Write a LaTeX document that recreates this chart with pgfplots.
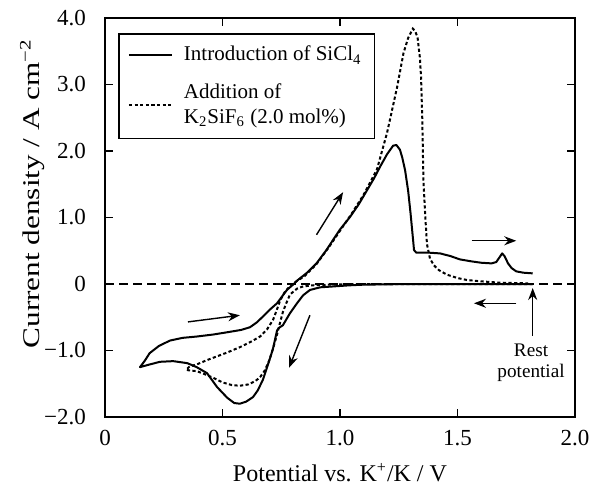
\documentclass[border=0pt]{standalone}
\usepackage{fontspec}
\setmainfont{Liberation Serif}
\usepackage{pgfplots}
\pgfplotsset{compat=1.18}
\usetikzlibrary{arrows.meta,calc}

\begin{document}
\begin{tikzpicture}
\begin{axis}[
  scale only axis, width=235pt, height=199.5pt,
  xmin=0, xmax=2, ymin=-2, ymax=4,
  xtick={0,0.5,1,1.5,2}, xticklabels={0,0.5,1.0,1.5,2.0},
  ytick={-2,-1,0,1,2,3,4}, yticklabels={−2.0,−1.0,0,1.0,2.0,3.0,4.0},
  tick align=inside, major tick length=4pt,
  tick style={line width=0.7pt, black},
  axis line style={line width=0.8pt},
  every tick label/.append style={font=\fontsize{11.5}{13}\selectfont},
  yticklabel style={xshift=-6pt},
  xticklabel style={yshift=-3pt},
  xlabel={Potential vs. K\textsuperscript{+}/K / V},
  ylabel={\scalebox{1.3}[1]{Current density / A cm\textsuperscript{−2}}},
  label style={font=\fontsize{12}{14}\selectfont},
  xlabel style={yshift=-2pt},
  ylabel style={yshift=-7pt, xshift=12pt},
  legend style={at={(rel axis cs:0.028,0.962)}, anchor=north west, draw=black, line width=0.8pt,
    font=\fontsize{10.5}{12.5}\selectfont, cells={align=left, anchor=west}, inner xsep=4.5pt, inner ysep=4pt, row sep=6pt},
  legend image code/.code={\draw[#1] (0pt,0pt) -- (21.5pt,0pt); \path (25pt,0pt);},
]
% zero line
\addplot[forget plot, line width=0.8pt, dash pattern=on 4.5pt off 2.5pt] coordinates {(0,0) (2,0)};

% SiCl4 introduction (solid)
\addplot[line width=1pt, black, line join=round] coordinates {
(1.82,0.0) (1.60,0.0) (1.30,0.0) (1.10,-0.01) (1.04,-0.02) (0.915,-0.05) (0.872,-0.09)
(0.843,-0.17) (0.817,-0.29) (0.787,-0.44) (0.757,-0.62) (0.74,-0.66) (0.732,-0.70)
(0.715,-0.97) (0.70,-1.14) (0.672,-1.44) (0.65,-1.60) (0.63,-1.70) (0.60,-1.77)
(0.574,-1.80) (0.55,-1.79) (0.52,-1.71) (0.477,-1.55) (0.434,-1.34) (0.39,-1.25)
(0.35,-1.19) (0.29,-1.16) (0.234,-1.17) (0.19,-1.21) (0.149,-1.25)
(0.17,-1.15) (0.19,-1.04) (0.23,-0.93) (0.277,-0.85) (0.33,-0.81) (0.39,-0.79)
(0.46,-0.76) (0.53,-0.72) (0.58,-0.69) (0.617,-0.65) (0.645,-0.58) (0.672,-0.49)
(0.70,-0.39) (0.732,-0.29) (0.755,-0.18) (0.774,-0.09) (0.80,-0.01) (0.817,0.05)
(0.86,0.17) (0.90,0.31) (0.94,0.50) (0.97,0.66) (1.00,0.82) (1.043,1.01) (1.08,1.20)
(1.115,1.41) (1.145,1.59) (1.17,1.76) (1.20,1.95) (1.226,2.08) (1.24,2.09) (1.255,2.02)
(1.265,1.90) (1.277,1.71) (1.29,1.40) (1.30,1.07) (1.31,0.70) (1.315,0.51) (1.325,0.47)
(1.383,0.47) (1.426,0.46) (1.47,0.42) (1.51,0.37) (1.56,0.34) (1.60,0.32) (1.645,0.31)
(1.665,0.33) (1.69,0.46) (1.70,0.42) (1.715,0.31) (1.73,0.24) (1.75,0.19) (1.78,0.17) (1.82,0.16)
};
\addlegendentry{Introduction of SiCl\textsubscript{4}}

% K2SiF6 addition (dotted)
\addplot[line width=1pt, black, dash pattern=on 1.6pt off 1.2pt] coordinates {
(1.82,0.0) (1.68,0.0) (1.40,0.0) (1.10,0.0) (0.95,-0.01) (0.88,-0.02) (0.84,-0.04)
(0.817,-0.07) (0.80,-0.12) (0.787,-0.16) (0.77,-0.30) (0.757,-0.42) (0.745,-0.58)
(0.732,-0.76) (0.715,-0.97) (0.70,-1.14) (0.68,-1.30) (0.66,-1.40) (0.64,-1.46)
(0.61,-1.51) (0.574,-1.53) (0.54,-1.52) (0.50,-1.48) (0.46,-1.41) (0.42,-1.35)
(0.39,-1.31) (0.36,-1.30) (0.345,-1.29) (0.36,-1.24) (0.39,-1.21) (0.43,-1.15)
(0.475,-1.09) (0.52,-1.03) (0.574,-0.95) (0.62,-0.87) (0.66,-0.79) (0.69,-0.68)
(0.715,-0.54) (0.73,-0.40) (0.745,-0.25) (0.765,-0.12) (0.787,-0.03) (0.81,0.03)
(0.85,0.12) (0.90,0.30) (0.95,0.54) (1.00,0.80) (1.05,1.06) (1.10,1.34) (1.157,1.72)
(1.20,2.27) (1.243,2.96) (1.27,3.47) (1.29,3.70) (1.31,3.84) (1.32,3.80) (1.33,3.71)
(1.34,3.40) (1.345,3.10) (1.35,2.50) (1.355,1.56) (1.362,1.07) (1.37,0.60) (1.383,0.38)
(1.40,0.28) (1.42,0.21) (1.455,0.14) (1.50,0.09) (1.54,0.06) (1.60,0.04) (1.68,0.02) (1.80,0.01)
};
\addlegendentry{Addition of\\K\textsubscript{2}SiF\textsubscript{6} (2.0 mol\%)}

% arrows
\addplot[forget plot, line width=0.7pt, -{Stealth[length=6pt,width=4.5pt]}] coordinates {(0.90,0.74) (1.013,1.38)};
\addplot[forget plot, line width=0.7pt, -{Stealth[length=6pt,width=4.5pt]}] coordinates {(1.56,0.65) (1.75,0.65)};
\addplot[forget plot, line width=0.7pt, -{Stealth[length=6pt,width=4.5pt]}] coordinates {(1.75,-0.29) (1.57,-0.29)};
\addplot[forget plot, line width=0.7pt, -{Stealth[length=6pt,width=4.5pt]}] coordinates {(1.82,-0.78) (1.82,-0.06)};
\addplot[forget plot, line width=0.7pt, -{Stealth[length=6pt,width=4.5pt]}] coordinates {(0.353,-0.57) (0.574,-0.47)};
\addplot[forget plot, line width=0.7pt, -{Stealth[length=6pt,width=4.5pt]}] coordinates {(0.872,-0.47) (0.783,-1.26)};

\node[align=center, font=\fontsize{9.6}{10.6}\selectfont] at (axis cs:1.813,-1.19) {Rest\\potential};
\end{axis}
\pgfresetboundingbox
\path[use as bounding box] ($(current axis.south west)+(-52.5pt,-34.5pt)$) rectangle ($(current axis.north east)+(8.5pt,9pt)$);
\end{tikzpicture}
\end{document}
